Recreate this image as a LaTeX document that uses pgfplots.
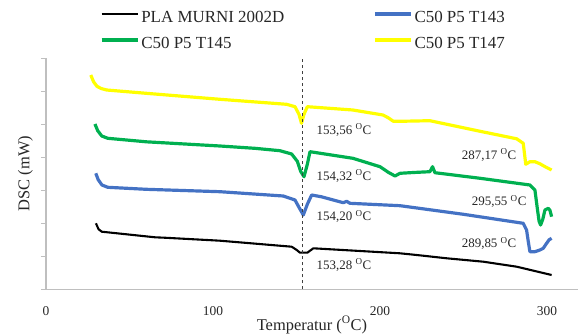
\documentclass[border=0pt]{standalone}
\usepackage{pgfplots}
\pgfplotsset{compat=1.18}
\usepackage{fontspec}
\setmainfont{Liberation Serif}
\definecolor{cblue}{HTML}{4472C4}
\definecolor{cgreen}{HTML}{00B050}
\definecolor{cyellow}{HTML}{FFFF00}
\definecolor{axgray}{HTML}{BFBFBF}
\definecolor{txt}{HTML}{262626}
\begin{document}
\begin{tikzpicture}
\begin{axis}[
  name=ax, at={(0,0)}, anchor=south west,
  scale only axis, width=532bp, height=231.3bp,
  xmin=0, xmax=318.6, ymin=0, ymax=231.3,
  axis x line*=bottom, axis y line*=left,
  axis line style={axgray, line width=1.2pt},
  xtick={0,100,200,300},
  ytick={0,33,...,231}, yticklabels={},
  tick align=outside, major tick length=5bp,
  x tick style={draw=none},
  y tick style={axgray, line width=0.8pt},
  xticklabel style={font=\fontsize{13.5}{15}\selectfont, text=txt, anchor=center, yshift=-16.5bp},
  /pgf/number format/assume math mode=true,
  xlabel={Temperatur (\textsuperscript{O}C)},
  ylabel={DSC (mW)},
  label style={font=\fontsize{16.5}{18}\selectfont, text=txt},
  x label style={at={(axis description cs:0.5,-0.154)}, anchor=center},
  y label style={at={(axis description cs:-0.0385,0.5)}, anchor=center},
  clip=false,
  legend columns=2,
  legend image code/.code={\draw[#1] (0bp,4.5bp) -- (36bp,4.5bp);},
  legend style={at={(axis cs:32.3,278.75)}, anchor=north west, draw=none, fill=none,
    inner sep=0pt, row sep=10.5bp,
    font=\fontsize{17}{19}\selectfont, text=txt,
    nodes={inner sep=0pt, text height=12bp, text depth=3.5bp},
    /tikz/every odd column/.append style={column sep=2bp},
    /tikz/every even column/.append style={column sep=89bp}},
  legend cell align=left,
]
\addplot[black, line width=2.1pt, line join=round] coordinates {
(29.9,66)(31.5,60)(33.4,57.6)(65.3,52)(72,51.5)(104.2,48.6)(147.1,42.6)(150,39.5)(152.1,36.6)(156.5,36.6)(160.1,41)(212,36)(222,34.3)(240,31)(261.9,27.6)(281.9,22.6)(302.8,14.3)};
\addlegendentry{PLA MURNI 2002D}
\addplot[cblue, line width=3.2pt, line join=round] coordinates {
(29.8,116)(31.3,109.5)(33.5,104.3)(37,102)(60,100)(104.2,97.6)(142.1,93.3)(149.1,89.3)(151.5,82)(154.1,74.3)(156.5,85)(159.1,94.3)(165,92.5)(178,86.6)(180.1,88)(182,86)(212,83.6)(250,75)(285.8,66)(287.8,59.3)(288.8,48)(289.8,37.6)(292.8,37.6)(295.8,39.3)(297.8,41)(299.8,46)(301.3,49.5)(302.8,51)};
\addlegendentry{C50 P5 T143}
\addplot[cgreen, line width=3.2pt, line join=round] coordinates {
(29.3,165.3)(31,158.5)(33.4,153.3)(37,151)(60,147.5)(104.2,143.3)(125,141)(140.1,138.6)(147.1,135.3)(150.5,128)(152.5,118)(154.5,112.6)(156.5,125)(158.1,137.6)(183.8,131)(200,122.6)(205,117)(209,113.3)(212,116)(220,116.8)(229.9,117.6)(231.5,122.6)(232.9,116.6)(260,111)(289.8,104.3)(292.8,99.3)(294.3,80)(295.3,68)(296.2,64.3)(297.5,70)(298.8,79.3)(300.8,81)(301.8,79)(302.8,72.6)};
\addlegendentry{C50 P5 T145}
\addplot[cyellow, line width=3.2pt, line join=round] coordinates {
(26.8,214.3)(28.5,207.5)(30.5,203)(33,200.8)(36.3,199.3)(60,196)(104.2,190)(144.1,185)(149.1,182.6)(151.5,175)(153.0,166)(154.5,175)(156.5,182.6)(183.8,179.3)(201.8,174.3)(205,171.5)(208,168)(212,168)(229.9,168.6)(260,158)(281.9,150.5)(285.8,146)(286.6,135)(287.3,125)(289.8,127.6)(292.8,127.6)(295.8,125.5)(299,122.5)(302.8,119.3)};
\addlegendentry{C50 P5 T147}
\addplot[black!75, dashed, line width=0.8pt, forget plot] coordinates {(153.7,0)(153.7,231.3)};
\node[anchor=west, font=\fontsize{13}{15}\selectfont, text=txt] at (axis cs:160,159.3) {153,56 \textsuperscript{O}C};
\node[anchor=west, font=\fontsize{13}{15}\selectfont, text=txt] at (axis cs:160,113.3) {154,32 \textsuperscript{O}C};
\node[anchor=west, font=\fontsize{13}{15}\selectfont, text=txt] at (axis cs:160,72.6) {154,20 \textsuperscript{O}C};
\node[anchor=west, font=\fontsize{13}{15}\selectfont, text=txt] at (axis cs:160,24.3) {153,28 \textsuperscript{O}C};
\node[anchor=east, font=\fontsize{13}{15}\selectfont, text=txt] at (axis cs:283.8,134.3) {287,17 \textsuperscript{O}C};
\node[anchor=east, font=\fontsize{13}{15}\selectfont, text=txt] at (axis cs:289.8,87.6) {295,55 \textsuperscript{O}C};
\node[anchor=east, font=\fontsize{13}{15}\selectfont, text=txt] at (axis cs:283.8,46) {289,85 \textsuperscript{O}C};
\end{axis}
\pgfresetboundingbox
\path[use as bounding box] ([xshift=-46bp,yshift=-44.7bp]ax.south west) rectangle ([yshift=58bp]ax.north east);
\end{tikzpicture}
\end{document}
